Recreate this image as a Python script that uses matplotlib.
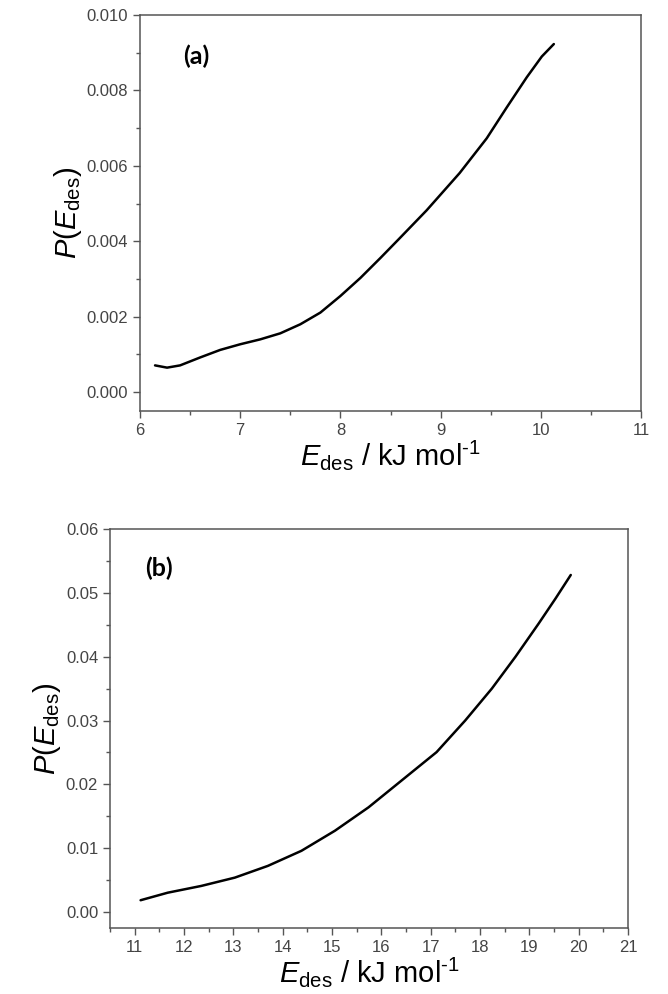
import matplotlib
matplotlib.use("Agg")
import matplotlib.pyplot as plt
from matplotlib.ticker import MultipleLocator, FormatStrFormatter

plt.rcParams['font.family'] = ['Liberation Sans', 'DejaVu Sans']
plt.rcParams['mathtext.fontset'] = 'custom'
plt.rcParams['mathtext.rm'] = 'Liberation Sans'
plt.rcParams['mathtext.it'] = 'Liberation Sans:italic'

# panel (a) curve
Ea = [6.15, 6.27, 6.40, 6.60, 6.80, 7.00, 7.20, 7.40, 7.60, 7.80, 8.00,
      8.20, 8.40, 8.58, 8.86, 9.19, 9.46, 9.66, 9.86, 10.01, 10.13]
Pa = [0.00071, 0.00065, 0.00071, 0.00092, 0.00112, 0.00127, 0.00140,
      0.00156, 0.00180, 0.00211, 0.00255, 0.00303, 0.00356, 0.00405,
      0.00482, 0.00581, 0.00673, 0.00755, 0.00835, 0.00890, 0.00923]

# panel (b) curve
Eb = [11.12, 11.67, 12.35, 13.03, 13.70, 14.38, 15.06, 15.74, 16.41,
      17.12, 17.70, 18.24, 18.72, 19.19, 19.53, 19.84]
Pb = [0.00185, 0.00303, 0.00409, 0.00539, 0.00723, 0.00959, 0.01274,
      0.01640, 0.02060, 0.02505, 0.0300, 0.0350, 0.0400, 0.0452, 0.0491,
      0.0528]

GREY = "#555555"
TXT = "#444444"
XLABEL = r"$E_{\rm des}$ / kJ mol$^{\text{-1}}$"
YLABEL = r"$P(E_{\rm des})$"


def style(ax, xmaj, ymaj, yfmt):
    for s in ax.spines.values():
        s.set_color(GREY)
        s.set_linewidth(1.1)
    ax.xaxis.set_major_locator(MultipleLocator(xmaj))
    ax.xaxis.set_minor_locator(MultipleLocator(xmaj / 2))
    ax.yaxis.set_major_locator(MultipleLocator(ymaj))
    ax.yaxis.set_minor_locator(MultipleLocator(ymaj / 2))
    ax.yaxis.set_major_formatter(FormatStrFormatter(yfmt))
    ax.tick_params(which="both", direction="out", color=GREY,
                   top=False, right=False, labelsize=12, labelcolor=TXT)
    ax.tick_params(which="major", length=5, width=1)
    ax.tick_params(which="minor", length=3, width=1)


fig = plt.figure(figsize=(6.68, 9.94), dpi=100)

ax1 = fig.add_axes([0.2096, 0.5865, 0.75, 0.3984])
ax1.plot(Ea, Pa, color="black", lw=1.8, solid_capstyle="round")
ax1.set_xlim(6, 11)
ax1.set_ylim(-0.0005, 0.010)
style(ax1, 1, 0.002, "%.3f")
ax1.set_xlabel(XLABEL, fontsize=21, labelpad=0)
ax1.set_ylabel(YLABEL, fontsize=21, labelpad=2)
ax1.text(6.43, 0.0089, "(a)", fontsize=18, fontweight="bold",
         family="Lato", va="center", ha="left")

ax2 = fig.add_axes([0.1647, 0.0664, 0.7754, 0.4014])
ax2.plot(Eb, Pb, color="black", lw=1.8, solid_capstyle="round")
ax2.set_xlim(10.5, 21)
ax2.set_ylim(-0.0025, 0.06)
style(ax2, 1, 0.01, "%.2f")
ax2.set_xlabel(XLABEL, fontsize=21, labelpad=0)
ax2.set_ylabel(YLABEL, fontsize=21, labelpad=2)
ax2.text(11.22, 0.0539, "(b)", fontsize=18, fontweight="bold",
         family="Lato", va="center", ha="left")

fig.savefig("out.png", dpi=100)
